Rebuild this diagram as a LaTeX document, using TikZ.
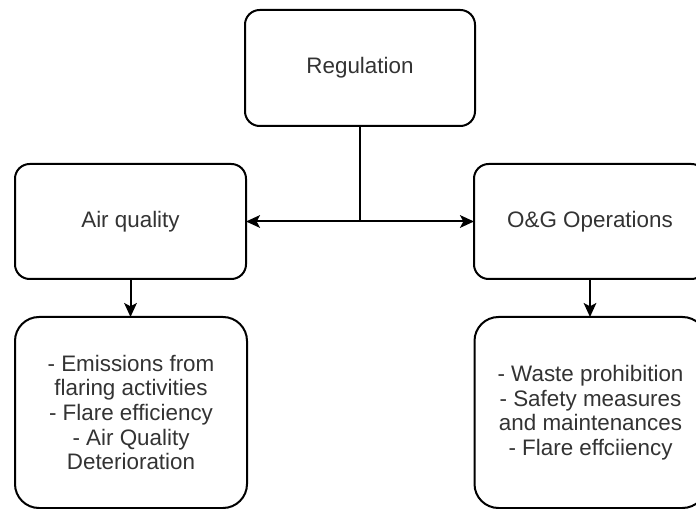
\documentclass[tikz,border=0pt]{standalone}
\usepackage{fontspec}
\setmainfont{Liberation Sans}
\usetikzlibrary{arrows.meta}
\usetikzlibrary{positioning}

\begin{document}
\begin{tikzpicture}[x=0.75pt,y=0.75pt,yscale=-1,xscale=1,
    box/.style={draw, line width=1.5pt, rounded corners=11pt, fill=white, outer sep=0pt,
        align=center, text={rgb,255:red,51;green,51;blue,51},
        font=\fontsize{16.8}{18.4}\selectfont},
    listbox/.style={box, rounded corners=18pt, minimum width=174pt, minimum height=143.25pt},
    conn/.style={line width=1.5pt},
    arr/.style={conn, -{Stealth[length=10.5pt, width=9.5pt, inset=2.5pt]}}]
            %set diagram size to 696 x 509
            \useasboundingbox (0,0) rectangle (696,509);
            \clip (0,0) rectangle (696,509);

            % Top box
            \node [box, minimum width=172.5pt, minimum height=87pt] (reg) at (360,68) {Regulation};
            % Middle boxes
            \node [box, minimum width=173.25pt, minimum height=86.25pt] (air) at (130.5,221.5) {Air quality};
            \node [box, minimum width=174pt, minimum height=86.25pt] (og) at (590,221.5) {O\&G Operations};
            % Bottom boxes
            \node [listbox] (airlist) at (131,412.5) {- Emissions from\\flaring activities\\- Flare efficiency\\- Air Quality\\Deterioration};
            \node [listbox] (oglist) at (590.5,412.5) {- Waste prohibition\\- Safety measures\\and maintenances\\- Flare effciiency};

            % Connectors
            \draw [conn] (reg.south) -- (reg.south |- air.east) coordinate (split);
            \draw [arr] (split) -- (air.east);
            \draw [arr] (split) -- (og.west);
            \draw [arr] (air.south) -- (airlist.north -| air.south);
            \draw [arr] (og.south) -- (oglist.north -| og.south);

        \end{tikzpicture}
\end{document}
